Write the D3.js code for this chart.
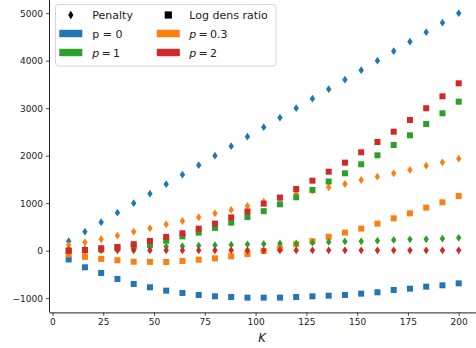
<!DOCTYPE html>
<html>
<head>
<meta charset="utf-8">
<script src="https://cdn.jsdelivr.net/npm/d3@7"></script>
<style>
  html, body { margin: 0; padding: 0; background: #fff; }
  svg { display: block; font-family: "DejaVu Sans", sans-serif; }
</style>
</head>
<body>
<svg id="chart" width="476" height="348"></svg>
<script>
// Number of components
const K = [8, 16, 24, 32, 40, 48, 56, 64, 72, 80, 88, 96, 104, 112, 120, 128, 136, 144, 152, 160, 168, 176, 184, 192, 200];

// Penalty term per exponent p
const penaltyP0 = [200, 400, 600, 800, 1000, 1200, 1400, 1600, 1800, 2000, 2200, 2400, 2600, 2800, 3000, 3200, 3400, 3600, 3800, 4000, 4200, 4400, 4600, 4800, 5000];
const penaltyP03 = [120, 175, 240, 318, 400, 470, 555, 625, 703, 787, 857, 941, 1030, 1110, 1205, 1263, 1335, 1404, 1488, 1558, 1629, 1700, 1789, 1860, 1937];
const penaltyP1 = [15, 30, 45, 55, 65, 75, 85, 95, 105, 115, 125, 134, 141, 152, 155, 169, 183, 195, 197, 211, 225, 239, 240, 253, 270];
const penaltyP2 = [8, 8, 8, 8, 8, 8, 8, 8, 8, 8, 8, 8, 8, 8, 8, 8, 8, 8, 8, 8, 8, 8, 8, 8, 8];

// Log density ratio per exponent p
const logdensP0 = [-185, -350, -470, -596, -701, -771, -842, -891, -933, -961, -975, -989, -989, -989, -975, -961, -947, -933, -905, -877, -828, -800, -758, -730, -688];
const logdensP03 = [-80, -130, -172, -202, -234, -236, -238, -217, -189, -161, -119, -70, -8, 50, 136, 200, 292, 380, 464, 569, 681, 787, 906, 1018, 1151];
const logdensP1 = [0, 5, 25, 50, 90, 125, 210, 300, 380, 480, 590, 710, 832, 976, 1124, 1278, 1456, 1629, 1819, 2008, 2225, 2429, 2667, 2893, 3137];
const logdensP2 = [0, 15, 50, 78, 137, 205, 290, 366, 464, 570, 700, 825, 990, 1117, 1299, 1474, 1663, 1853, 2071, 2288, 2505, 2752, 2998, 3250, 3524];

const xTicks = [0, 25, 50, 75, 100, 125, 150, 175, 200];
const yTicks = [-1000, 0, 1000, 2000, 3000, 4000, 5000];

const colors = { p0: "#1f77b4", p03: "#ff7f0e", p1: "#2ca02c", p2: "#d62728" };

const groups = [
  { key: "p0", penalty: penaltyP0, logdens: logdensP0 },
  { key: "p03", penalty: penaltyP03, logdens: logdensP03 },
  { key: "p1", penalty: penaltyP1, logdens: logdensP1 },
  { key: "p2", penalty: penaltyP2, logdens: logdensP2 }
];

const svg = d3.select("#chart");

const x = d3.scaleLinear().domain([-1.6, 209.6]).range([49.2, 478.2]);
const y = d3.scaleLinear().domain([-1300, 5300]).range([312.4, -1.05]);

const plotLeft = 49.5, plotBottom = 312.4;

// thin diamond marker
const diamond = "M0,-3.9L2.7,0L0,3.9L-2.7,0Z";
const sq = 6;

const marks = svg.append("g");
groups.forEach(g => {
  const c = colors[g.key];
  marks.append("g").selectAll("path")
    .data(K.map((k, i) => [k, g.penalty[i]]))
    .join("path")
    .attr("d", diamond)
    .attr("transform", d => `translate(${x(d[0])},${y(d[1])})`)
    .attr("fill", c);
  marks.append("g").selectAll("rect")
    .data(K.map((k, i) => [k, g.logdens[i]]))
    .join("rect")
    .attr("x", d => x(d[0]) - sq / 2)
    .attr("y", d => y(d[1]) - sq / 2)
    .attr("width", sq)
    .attr("height", sq)
    .attr("fill", c);
});

// axes
const fmt = d => d < 0 ? "\u2212" + Math.abs(d) : String(d);

const xAxis = svg.append("g")
  .attr("transform", `translate(0,${plotBottom})`)
  .call(d3.axisBottom(x).tickValues(xTicks).tickSize(3.5).tickPadding(3).tickFormat(fmt));
xAxis.select(".domain").attr("d", `M${plotLeft},0.5H478`).attr("stroke", "#222").attr("stroke-width", 1);

const yAxis = svg.append("g")
  .attr("transform", `translate(${plotLeft},0)`)
  .call(d3.axisLeft(y).tickValues(yTicks).tickSize(3.5).tickPadding(3).tickFormat(fmt));
yAxis.select(".domain").attr("d", `M0,0V${plotBottom}`).attr("stroke", "#222").attr("stroke-width", 1);

svg.selectAll(".tick line").attr("stroke", "#222").attr("stroke-width", 0.8);
svg.selectAll(".tick text").attr("fill", "#222").style("font-size", "9px").style("font-family", "DejaVu Sans");

svg.append("text")
  .attr("x", 262)
  .attr("y", 341.5)
  .attr("text-anchor", "middle")
  .style("font-size", "11.5px")
  .style("font-style", "italic")
  .attr("fill", "#222")
  .text("K");

// legend
const leg = svg.append("g");
leg.append("rect")
  .attr("x", 55.5).attr("y", 4.5)
  .attr("width", 220.5).attr("height", 61.5)
  .attr("rx", 3)
  .attr("fill", "#fff").attr("fill-opacity", 0.8)
  .attr("stroke", "#d6d6d6").attr("stroke-width", 1);

const legFont = "11px";
const rowsY = [15, 33.5, 52.5];
const col1 = { handle: 70.8, text: 92.3 };
const col2 = { handle: 168.3, text: 189.3 };

leg.append("path")
  .attr("d", "M0,-4.2L2.6,0L0,4.2L-2.6,0Z")
  .attr("transform", `translate(${col1.handle},${rowsY[0]})`)
  .attr("fill", "#000");
leg.append("rect")
  .attr("x", col2.handle - 3.6).attr("y", rowsY[0] - 3.6)
  .attr("width", 7.2).attr("height", 7.2)
  .attr("fill", "#000");

const legendItems = [
  { col: col1, row: 0, label: "Penalty" },
  { col: col2, row: 0, label: "Log dens ratio" },
  { col: col1, row: 1, color: colors.p0, p: "0", upright: true },
  { col: col2, row: 1, color: colors.p03, p: "0.3" },
  { col: col1, row: 2, color: colors.p1, p: "1" },
  { col: col2, row: 2, color: colors.p2, p: "2" }
];

legendItems.forEach(it => {
  const cy = rowsY[it.row];
  if (it.color) {
    leg.append("rect")
      .attr("x", it.col.handle - 11.5).attr("y", cy - 3.7)
      .attr("width", 23).attr("height", 7.4)
      .attr("fill", it.color);
  }
  const t = leg.append("text")
    .attr("x", it.col.text)
    .attr("y", cy + 4)
    .style("font-size", legFont)
    .attr("fill", "#222");
  if (it.label) {
    t.text(it.label);
  } else if (it.upright) {
    t.text("p = " + it.p);
  } else {
    t.append("tspan").style("font-style", "italic").text("p");
    t.append("tspan").text("\u2009=\u2009" + it.p);
  }
});
</script>
</body>
</html>
